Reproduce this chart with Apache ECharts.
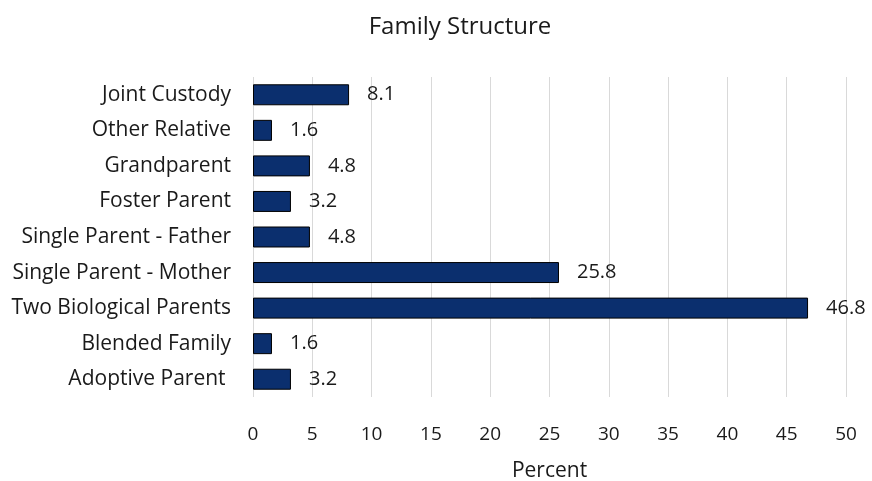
<!DOCTYPE html>
<html><head><meta charset="utf-8">
<script src="https://cdn.jsdelivr.net/npm/echarts@6/dist/echarts.min.js"></script>
<style>html,body{margin:0;padding:0;background:#fff}#c{width:872px;height:481px}</style>
</head><body><div id="c"></div>
<script>
const categories = ["Adoptive Parent ", "Blended Family", "Two Biological Parents", "Single Parent - Mother", "Single Parent - Father", "Foster Parent", "Grandparent", "Other Relative", "Joint Custody"];
const values = [3.2, 1.6, 46.8, 25.8, 4.8, 3.2, 4.8, 1.6, 8.1];
const xTicks = [0, 5, 10, 15, 20, 25, 30, 35, 40, 45, 50];
const FONT = "Open Sans";
const chart = echarts.init(document.getElementById('c'), null, {renderer: 'canvas'});
chart.setOption({
  animation: false,
  title: {text: "Family Structure", left: 455, top: 10, textAlign: 'center',
    textStyle: {fontFamily: FONT, fontSize: 24, fontWeight: 'normal', color: '#1a1a1a'}},
  grid: {left: 253, right: 26, top: 77, bottom: 84, containLabel: false, outerBoundsMode: 'none'},
  xAxis: {type: 'value', min: xTicks[0], max: xTicks[xTicks.length-1], interval: 5,
    name: "Percent", nameLocation: 'middle', nameGap: 64,
    nameTextStyle: {fontFamily: FONT, fontSize: 21, color: '#1a1a1a'},
    axisLine: {show: false}, axisTick: {show: false},
    axisLabel: {fontFamily: FONT, fontSize: 19, color: '#1a1a1a', margin: 28},
    splitLine: {show: true, lineStyle: {color: '#d9d9d9', width: 1}}},
  yAxis: {type: 'category', data: categories,
    axisLine: {show: false}, axisTick: {show: false},
    axisLabel: {fontFamily: FONT, fontSize: 21, color: '#1a1a1a', margin: 22}},
  series: [{type: 'bar', data: values, barCategoryGap: '41%',
    itemStyle: {color: '#0b2f6e', borderColor: '#000', borderWidth: 1},
    label: {show: true, position: 'right', distance: 18, fontFamily: FONT, fontSize: 20, color: '#1a1a1a'}}]
});
</script></body></html>
